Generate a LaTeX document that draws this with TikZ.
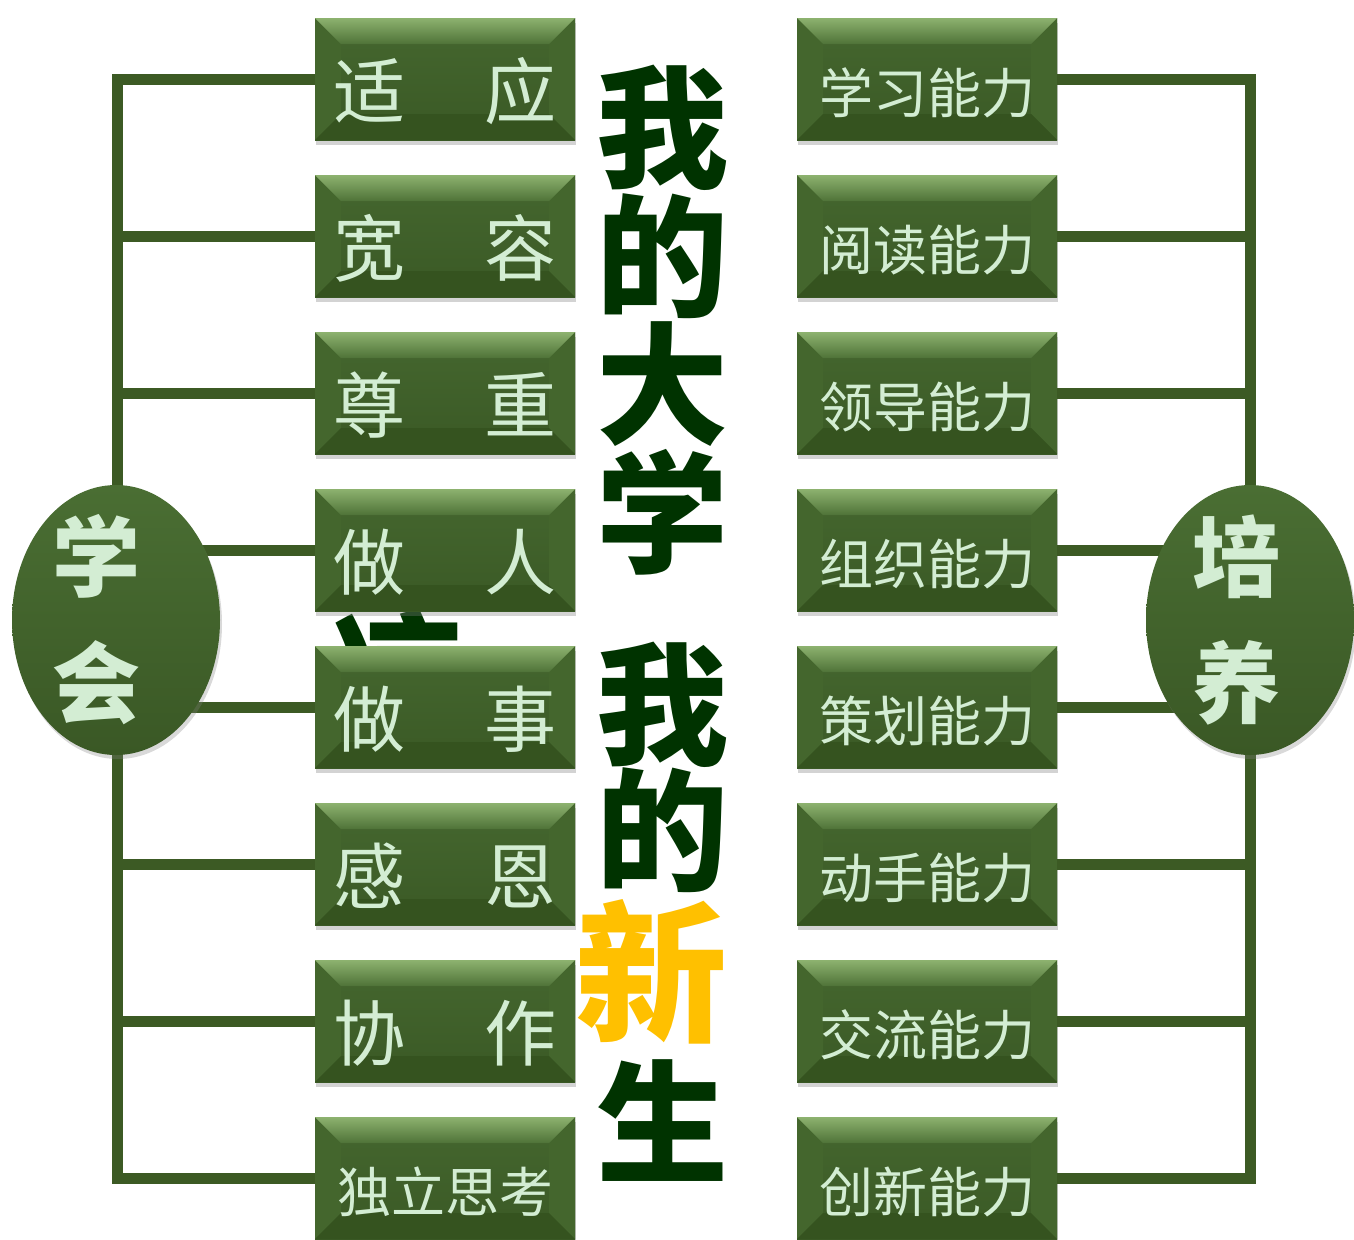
\documentclass[tikz,border=0pt]{standalone}
\usepackage{fontspec}
\setmainfont{Noto Sans CJK SC}
\usetikzlibrary{shapes.geometric,shadows}

\definecolor{barg}{HTML}{3C5A24}
\definecolor{facetop}{HTML}{45672F}
\definecolor{facebot}{HTML}{3A5925}
\definecolor{bevlt}{HTML}{8DB26F}
\definecolor{bevmd}{HTML}{4F7338}
\definecolor{bevsd}{HTML}{44662D}
\definecolor{bevdk}{HTML}{35531F}
\definecolor{hubtop}{HTML}{4A6E33}
\definecolor{hubbot}{HTML}{3A5825}
\definecolor{txtg}{HTML}{D3EDD3}
\definecolor{titleg}{HTML}{003300}
\definecolor{gold}{HTML}{FFC000}

\begin{document}
\begin{tikzpicture}[x=0.5pt, y=-0.5pt,
  bar/.style={draw=barg, line width=5.5pt},
  box/.style={minimum width=130pt, minimum height=61pt, inner sep=0pt,
    top color=facetop, bottom color=facebot,
    drop shadow={shadow xshift=0.5pt, shadow yshift=-2.5pt, opacity=.35},
    path picture={
      \path (path picture bounding box.north west) coordinate (nw)
            (path picture bounding box.north east) coordinate (ne)
            (path picture bounding box.south west) coordinate (sw)
            (path picture bounding box.south east) coordinate (se);
      \fill[bevsd] (nw) -- ([xshift=13pt,yshift=-13pt]nw) -- ([xshift=13pt,yshift=13pt]sw) -- (sw) -- cycle;
      \fill[bevsd] (ne) -- ([xshift=-13pt,yshift=-13pt]ne) -- ([xshift=-13pt,yshift=13pt]se) -- (se) -- cycle;
      \fill[bevdk] (sw) -- ([xshift=13pt,yshift=13pt]sw) -- ([xshift=-13pt,yshift=13pt]se) -- (se) -- cycle;
      \shade[top color=bevlt, bottom color=bevmd] (nw) -- (ne) -- ([xshift=-13pt,yshift=-13pt]ne) -- ([xshift=13pt,yshift=-13pt]nw) -- cycle;
    }},
  bigtxt/.style={text=txtg, font=\fontsize{36}{36}\selectfont, yshift=-6pt},
  smalltxt/.style={text=txtg, font=\fontsize{27}{27}\selectfont, yshift=-7pt},
  hub/.style={ellipse, minimum width=104pt, minimum height=135pt, inner sep=0pt,
    top color=hubtop, bottom color=hubbot,
    drop shadow={shadow xshift=1pt, shadow yshift=-2pt, opacity=.3}},
  hubtxt/.style={text=txtg, font=\bfseries\fontsize{44}{63}\selectfont, align=center},
  title/.style={text=titleg, font=\bfseries\fontsize{66}{66}\selectfont, inner sep=0pt}]

  \useasboundingbox (0,0) rectangle (1354,1239);

  % hidden word behind the boxes
  \node[title] (hid) at (398,672) {凉};

  % left column
  \foreach \a/\b [count=\i] in {适/应,宽/容,尊/重,做/人,做/事,感/恩,协/作}
    \node[box, label={[bigtxt]center:\a\hspace{1.1em}\b}] (l\i) at (445,{79+157*(\i-1)}) {};
  \node[box, label={[smalltxt]center:独立思考}] (l8) at (445,1178) {};

  % right column
  \foreach \w [count=\i] in {学习,阅读,领导,组织,策划,动手,交流,创新}
    \node[box, label={[smalltxt]center:\w 能力}] (r\i) at (927,{79+157*(\i-1)}) {};

  % brackets
  \coordinate (lx) at (117,0);
  \coordinate (rx) at (1250,0);
  \foreach \i in {1,...,8} {
    \draw[bar] (l\i.west) -- (l\i.west -| lx);
    \draw[bar] (r\i.east) -- (r\i.east -| rx);
  }
  \draw[bar, line cap=rect] (l1.west -| lx) -- (l8.west -| lx);
  \draw[bar, line cap=rect] (r1.east -| rx) -- (r8.east -| rx);

  % hubs
  \node[hub] (lhub) at (116,620) {};
  \node[hubtxt] (ltxt) at ([xshift=-10pt]lhub.center) {学\\会};
  \node[hub] (rhub) at (1250,620) {};
  \node[hubtxt] (rtxt) at ([xshift=-7pt]rhub.center) {培\\养};

  % title
  \foreach \c [count=\i] in {我,的,大,学}
    \node[title] (a\i) at (662,{128*\i}) {\c};
  \node[title] (b1) at (662,705) {我};
  \node[title] (b2) at (662,830) {的};
  \node[title, text=gold, font=\bfseries\fontsize{76}{76}\selectfont] (b3) at (651,972) {新};
  \node[title] (b4) at (662,1121) {生};
\end{tikzpicture}
\end{document}
